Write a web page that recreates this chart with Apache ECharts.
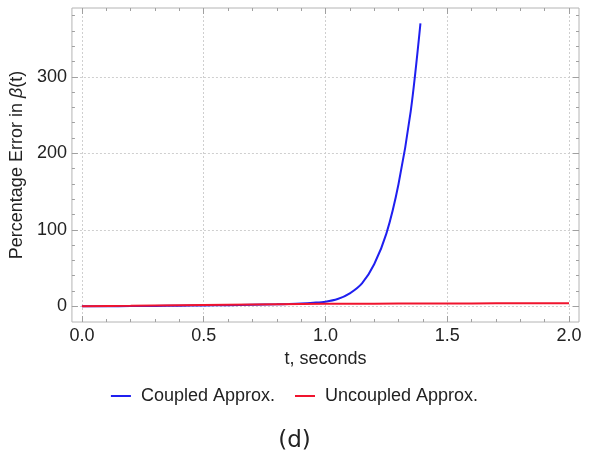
<!DOCTYPE html>
<html>
<head>
<meta charset="utf-8">
<script src="https://cdn.jsdelivr.net/npm/echarts@6/dist/echarts.min.js"></script>
<style>
  html, body { margin: 0; padding: 0; background: #fff; }
  #chart { width: 589px; height: 456px; }
</style>
</head>
<body>
<div id="chart"></div>
<script>
// data
var tCoupled   = [0, 0.1, 0.2, 0.3, 0.4, 0.5, 0.6, 0.7, 0.8, 0.85, 0.9, 0.95, 1.0, 1.05, 1.1, 1.15, 1.2, 1.25, 1.3, 1.35, 1.39];
var errCoupled = [0, 0.1, 0.3, 0.5, 0.8, 1.1, 1.5, 2.0, 2.6, 3.0, 3.6, 4.6, 6.0, 9.5, 17, 30, 55, 95, 160, 255, 370];
var tUncoupled   = [0, 0.2, 0.4, 0.6, 0.8, 1.0, 1.2, 1.4, 1.6, 1.8, 2.0];
var errUncoupled = [0, 0.6, 1.3, 2.0, 2.7, 3.2, 3.5, 3.7, 3.8, 3.9, 3.9];

var xMajor = [0, 0.5, 1, 1.5, 2];
var yMajor = [0, 100, 200, 300];
var xRange = [-0.041, 2.041];
var yRange = [-20.5, 390];

var xMinor = [];
for (var i = 0; i <= 20; i++) xMinor.push(+(i * 0.1).toFixed(1));
var yMinor = [];
for (var j = 0; j <= 19; j++) yMinor.push(j * 20);

function pairs(xs, ys) {
  var out = [];
  for (var k = 0; k < xs.length; k++) out.push([xs[k], ys[k]]);
  return out;
}

var font = 'Liberation Sans';
var fs = 18;
var tickColor = '#a0a0a0';

function xAx(pos, ticks, len, withLabels) {
  return {
    type: 'value', position: pos, min: xRange[0], max: xRange[1], offset: 0,
    axisLine: { show: false, onZero: false },
    axisTick: { show: true, inside: true, length: len, customValues: ticks,
                lineStyle: { color: tickColor, width: 1 } },
    axisLabel: withLabels ? {
      show: true, customValues: xMajor, margin: 5, color: '#222',
      fontFamily: font, fontSize: fs,
      formatter: function (v) { return v.toFixed(1); }
    } : { show: false },
    splitLine: withLabels ? { show: true, lineStyle: { color: '#cfcfcf', type: [2, 2], width: 1 } } : { show: false },
    name: withLabels ? 't, seconds' : '',
    nameLocation: 'middle', nameGap: 28,
    nameTextStyle: { color: '#222', fontFamily: font, fontSize: fs }
  };
}

function yAx(pos, ticks, len, withLabels) {
  return {
    type: 'value', position: pos, min: yRange[0], max: yRange[1], offset: 0,
    axisLine: { show: false, onZero: false },
    axisTick: { show: true, inside: true, length: len, customValues: ticks,
                lineStyle: { color: tickColor, width: 1 } },
    axisLabel: withLabels ? {
      show: true, customValues: yMajor, margin: 5, color: '#222',
      fontFamily: font, fontSize: fs
    } : { show: false },
    splitLine: withLabels ? { show: true, lineStyle: { color: '#cfcfcf', type: [2, 2], width: 1 } } : { show: false },
    name: withLabels ? '{a|Percentage Error in }{b|β}{a|(t)}' : '',
    nameLocation: 'middle', nameGap: 35, nameRotate: 90,
    nameTextStyle: {
      rich: {
        a: { color: '#222', fontFamily: font, fontSize: fs },
        b: { color: '#222', fontFamily: font, fontSize: fs, fontStyle: 'italic' }
      }
    }
  };
}

var option = {
  backgroundColor: '#fff',
  animation: false,
  grid: { left: 71, top: 8, right: 10, bottom: 134, show: true,
          borderColor: '#b4b4b4', borderWidth: 1, backgroundColor: 'transparent' },
  legend: {
    top: 382, left: 'center',
    icon: 'rect', itemWidth: 20, itemHeight: 2, itemGap: 20,
    textStyle: { color: '#222', fontFamily: font, fontSize: fs, padding: [0, 0, 0, 5] },
    data: ['Coupled Approx.', 'Uncoupled Approx.']
  },
  graphic: [{
    type: 'text', left: 'center', top: 430,
    style: { text: '(d)', fontFamily: 'DejaVu Sans', fontSize: 23, fill: '#222' }
  }],
  xAxis: [
    xAx('bottom', xMajor, 6, true),
    xAx('bottom', xMinor, 3, false),
    xAx('top', xMajor, 6, false),
    xAx('top', xMinor, 3, false)
  ],
  yAxis: [
    yAx('left', yMajor, 6, true),
    yAx('left', yMinor, 3, false),
    yAx('right', yMajor, 6, false),
    yAx('right', yMinor, 3, false)
  ],
  series: [
    {
      name: 'Coupled Approx.', type: 'line', smooth: 0.3, showSymbol: false,
      xAxisIndex: 0, yAxisIndex: 0,
      lineStyle: { color: '#1f1ff0', width: 2 }, itemStyle: { color: '#1f1ff0' },
      data: pairs(tCoupled, errCoupled)
    },
    {
      name: 'Uncoupled Approx.', type: 'line', smooth: 0.3, showSymbol: false,
      xAxisIndex: 0, yAxisIndex: 0,
      lineStyle: { color: '#f0142e', width: 2 }, itemStyle: { color: '#f0142e' },
      data: pairs(tUncoupled, errUncoupled)
    }
  ]
};

var myChart = echarts.init(document.getElementById('chart'));
myChart.setOption(option);
</script>
</body>
</html>
